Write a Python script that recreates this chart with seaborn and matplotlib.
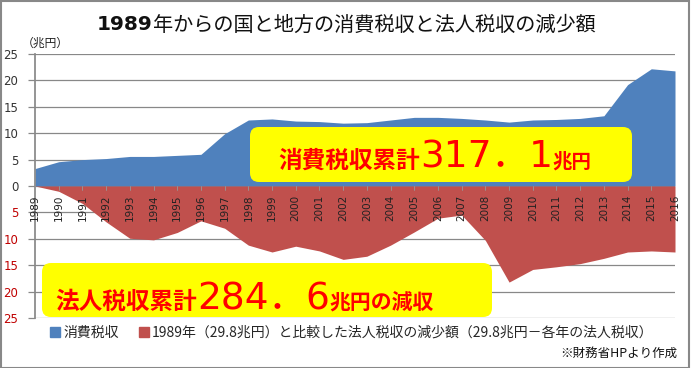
import matplotlib
matplotlib.use("Agg")
import matplotlib.pyplot as plt
import seaborn as sns
import pandas as pd
from matplotlib.patches import FancyBboxPatch, Rectangle
from matplotlib.lines import Line2D

# データ（兆円）
years = list(range(1989, 2017))
consumption_tax = [3.3, 4.6, 5.0, 5.2, 5.6, 5.6, 5.8, 6.0, 9.9, 12.5,
                   12.7, 12.3, 12.2, 11.9, 12.0, 12.5, 13.0, 13.0, 12.8, 12.5,
                   12.1, 12.5, 12.6, 12.8, 13.3, 19.2, 22.2, 21.8]
corp_decrease = [0.0, 1.0, 3.3, 6.8, 9.9, 10.2, 8.8, 6.6, 8.0, 11.2,
                 12.5, 11.4, 12.3, 13.9, 13.3, 11.2, 8.7, 6.1, 5.5, 10.3,
                 18.2, 15.8, 15.3, 14.7, 13.7, 12.5, 12.3, 12.5]
yticks = [25, 20, 15, 10, 5, 0, -5, -10, -15, -20, -25]

df = pd.DataFrame({'年': years, '消費税収': consumption_tax,
                   '減少額': [-v for v in corp_decrease]})

sns.set_theme(style="white")
JP = ['Noto Sans CJK JP', 'DejaVu Sans']
NUM = ['DejaVu Sans', 'Noto Sans CJK JP']
plt.rcParams['font.family'] = JP

BLUE = '#4F81BD'
RED = '#C0504D'
W, H = 691, 368

fig = plt.figure(figsize=(W / 100, H / 100), dpi=100)
ax = fig.add_axes([35 / W, 1 - 318 / H, 640 / W, 264 / H])

sns.lineplot(data=df, x='年', y='消費税収', ax=ax, color=BLUE, linewidth=0)
sns.lineplot(data=df, x='年', y='減少額', ax=ax, color=RED, linewidth=0)
ax.fill_between(df['年'], 0, df['消費税収'], color=BLUE, lw=0, zorder=2)
ax.fill_between(df['年'], 0, df['減少額'], color=RED, lw=0, zorder=2)

ax.set_xlim(1989, 2016)
ax.set_ylim(-25, 25)
ax.set_yticks(yticks)
ax.set_yticklabels([str(abs(v)) for v in yticks], fontsize=8.5, family=NUM)
for lbl, v in zip(ax.get_yticklabels(), yticks):
    lbl.set_color('#C00000' if v < 0 else '#333333')
ax.tick_params(axis='y', length=5, width=0.9, color='#888888', pad=7, left=True)
ax.grid(axis='y', color='#888888', linewidth=0.9, zorder=0)
ax.set_axisbelow(True)
ax.set_xticks([])
ax.set_xlabel('')
ax.set_ylabel('')
for s in ['top', 'right', 'bottom']:
    ax.spines[s].set_visible(False)
ax.spines['left'].set_color('#888888')

# 年ラベル（0線上）
for y in years:
    ax.text(y, -1.6, str(y), rotation=90, ha='center', va='top',
            fontsize=7.5, color='#222222', zorder=4, family=NUM)
    ax.plot([y, y], [0, -0.7], color='#999999', lw=0.6, zorder=3)

# 黄色のボックス（ピクセル座標で指定）
def yellow_box(x0, y0, x1, y1):
    p = FancyBboxPatch((x0 / 100, (H - y1) / 100), (x1 - x0) / 100, (y1 - y0) / 100,
                       boxstyle="round,pad=0,rounding_size=0.09",
                       transform=fig.dpi_scale_trans, facecolor='#FFFF00',
                       edgecolor='none', zorder=5)
    fig.patches.append(p)

yellow_box(250, 127, 632, 182)
yellow_box(42, 263, 492, 317)

renderer = fig.canvas.get_renderer()

def text_run(x, y, pieces):
    # pieces: (文字列, サイズ, 太字, フォント)
    for s, size, bold, fam in pieces:
        t = fig.text(x / W, 1 - y / H, s, color='#FF0000', fontsize=size,
                     fontweight='bold' if bold else 'normal', family=fam,
                     va='baseline', ha='left', zorder=6)
        x += t.get_window_extent(renderer).width

text_run(278, 168, [('消費税収累計', 17, True, JP), ('317．1', 27, False, NUM),
                    ('兆円', 14, True, JP)])
text_run(55, 309, [('法人税収累計', 17, True, JP), ('284．6', 27, False, NUM),
                   ('兆円の減収', 15, True, JP)])

# タイトル（1989のみ太字）、中央揃え
t1 = fig.text(0, 1 - 25 / H, '1989', ha='left', va='center', fontsize=14.5,
              fontweight='bold', color='#111111', family=NUM)
t2 = fig.text(0, 1 - 25 / H, '年からの国と地方の消費税収と法人税収の減少額',
              ha='left', va='center', fontsize=14.5, color='#111111')
w1 = t1.get_window_extent(renderer).width
w2 = t2.get_window_extent(renderer).width
x_start = 346 - (w1 + w2) / 2
t1.set_x(x_start / W)
t2.set_x((x_start + w1) / W)
fig.text(22 / W, 1 - 43 / H, '（兆円）', ha='left', va='center', fontsize=8.5,
         color='#222222')

# 凡例
handles = [Line2D([], [], marker='s', color=BLUE, linestyle='none', markersize=6.5),
           Line2D([], [], marker='s', color=RED, linestyle='none', markersize=6.5)]
labels = ['消費税収', '1989年（29.8兆円）と比較した法人税収の減少額（29.8兆円－各年の法人税収）']
fig.legend(handles, labels, loc='center left', bbox_to_anchor=(48 / W, 1 - 333 / H),
           ncol=2, frameon=False, fontsize=10, handletextpad=0.1,
           columnspacing=1.3, handlelength=1.0, borderpad=0, borderaxespad=0)

fig.text(677 / W, 1 - 353 / H, '※財務省HPより作成', ha='right', va='center',
         fontsize=9, color='#111111')

# 外枠
fig.patches.append(Rectangle((0.5 / W, 0.5 / H), (W - 3) / W, (H - 1.5) / H,
                             transform=fig.transFigure, fill=False,
                             edgecolor='#888888', lw=1.5))

fig.savefig('out.png', dpi=100)
